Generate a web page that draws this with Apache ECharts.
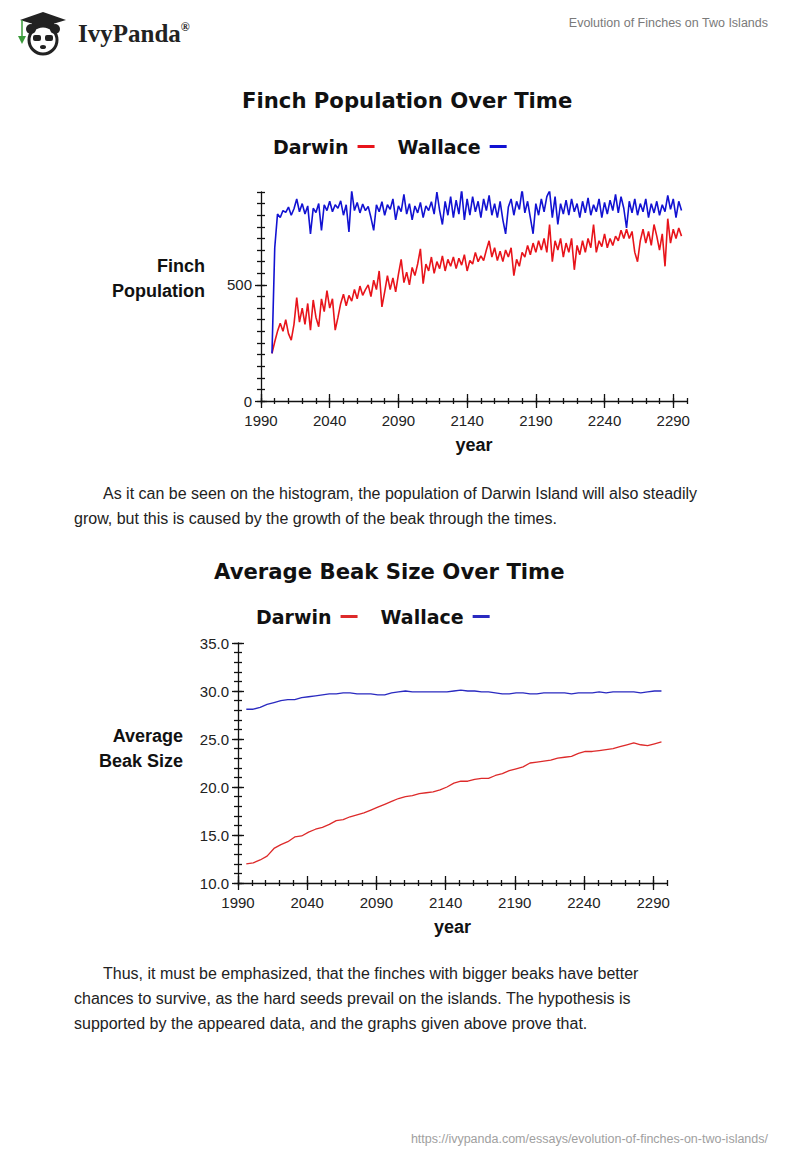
<!DOCTYPE html>
<html>
<head>
<meta charset="utf-8">
<script src="https://cdn.jsdelivr.net/npm/echarts@6/dist/echarts.min.js"></script>
<style>
  html, body { margin: 0; padding: 0; background: #fff; }
  body { width: 800px; height: 1160px; position: relative; overflow: hidden; font-family: "Liberation Sans", Arial, sans-serif; }
  .abs { position: absolute; }
  .para { position: absolute; left: 74px; font-size: 16px; line-height: 25px; color: #222; white-space: nowrap; }
  .hdr { position: absolute; right: 32px; top: 16px; font-size: 12.5px; color: #7a7a7a; }
  .foot { position: absolute; right: 32px; top: 1132px; font-size: 12.5px; color: #a0a0a0; }
  .brand { position: absolute; left: 78px; top: 20px; font-family: "Liberation Serif", "DejaVu Serif", serif; font-weight: bold; font-size: 25px; color: #222; }
  .brand sup { font-size: 12px; position: relative; top: -2px; }
</style>
</head>
<body>
<svg class="abs" style="left:12px;top:8px" width="62" height="48" viewBox="0 0 62 48">
  <polygon points="8,12 31,4 54,12 31,19" fill="#222"/>
  <rect x="20" y="13" width="22" height="7" fill="#222"/>
  <line x1="10" y1="12" x2="10" y2="28" stroke="#3a9a3a" stroke-width="1.5"/>
  <path d="M6 28 l4 8 l4 -8 z" fill="#3a9a3a"/>
  <circle cx="31" cy="32" r="14" fill="#fff" stroke="#222" stroke-width="3"/>
  <circle cx="19" cy="21" r="5" fill="#222"/>
  <circle cx="43" cy="21" r="5" fill="#222"/>
  <rect x="21" y="27" width="8" height="6" rx="2" fill="#222"/>
  <rect x="33" y="27" width="8" height="6" rx="2" fill="#222"/>
  <ellipse cx="31" cy="39" rx="3" ry="2" fill="#222"/>
</svg>
<div class="brand">IvyPanda<sup>®</sup></div>
<div class="hdr">Evolution of Finches on Two Islands</div>

<div id="c1" class="abs" style="left:0;top:80px;width:800px;height:380px"></div>

<div class="para" style="top:481px">
<span style="padding-left:29px"></span>As it can be seen on the histogram, the population of Darwin Island will also steadily<br>
grow, but this is caused by the growth of the beak through the times.
</div>

<div id="c2" class="abs" style="left:0;top:550px;width:800px;height:400px"></div>

<div class="para" style="top:961px">
<span style="padding-left:29px"></span>Thus, it must be emphasized, that the finches with bigger beaks have better<br>
chances to survive, as the hard seeds prevail on the islands. The hypothesis is<br>
supported by the appeared data, and the graphs given above prove that.
</div>

<div class="foot">https://ivypanda.com/essays/evolution-of-finches-on-two-islands/</div>

<script>
// ---------- Chart 1: Finch Population Over Time ----------
const popStartYear = 1998, popStep = 2;
const popDarwin = [
205,255,300,335,300,350,290,262,330,445,340,400,330,420,305,435,360,320,440,385,
475,400,440,305,360,420,460,410,455,430,480,440,495,455,480,500,450,520,480,560,
405,470,540,480,530,470,545,610,510,555,500,575,540,590,655,505,590,560,620,550,
600,570,625,560,610,580,620,570,615,585,630,560,605,590,640,600,625,605,650,690,
620,660,605,645,600,650,620,660,540,610,580,640,620,670,630,680,640,690,650,700,
640,760,600,690,650,700,620,680,640,700,565,670,630,690,640,700,660,760,640,690,
665,720,660,700,670,710,690,735,700,740,700,730,640,600,690,740,680,730,670,760,
710,650,720,580,785,680,740,700,745,710
];
const popWallace = [
205,660,805,790,820,812,835,800,828,870,815,850,805,840,720,830,812,850,735,845,
820,860,815,845,830,862,800,845,728,905,820,855,810,848,820,838,790,735,845,815,
858,800,845,825,870,780,840,815,890,805,850,780,840,810,855,790,840,820,858,805,
900,820,760,860,800,880,790,865,805,910,780,870,800,880,815,860,790,870,820,885,
800,850,790,860,780,720,835,870,800,860,825,910,810,860,790,720,850,800,870,815,
880,905,790,880,760,850,805,865,800,870,815,850,790,860,810,875,800,845,815,870,
790,855,805,865,820,890,810,880,830,745,860,810,870,800,850,815,870,790,850,810,
860,800,845,815,885,825,870,790,860,820
];
const popYears = popDarwin.map((_, i) => popStartYear + i * popStep);
const popYTickLabels = [0, 500];
const popYMajor = [0, 500];

// ---------- Chart 2: Average Beak Size Over Time ----------
const beakStartYear = 1996, beakStep = 5;
const beakDarwin = [
12.0,12.1,12.4,12.8,13.6,14.0,14.3,14.8,14.9,15.3,15.6,15.8,16.1,16.5,16.6,16.9,17.1,17.3,17.6,17.9,
18.2,18.5,18.8,19.0,19.1,19.3,19.4,19.5,19.7,20.0,20.4,20.6,20.6,20.8,20.9,20.9,21.2,21.4,21.7,21.9,
22.1,22.5,22.6,22.7,22.8,23.0,23.1,23.2,23.5,23.7,23.7,23.8,23.9,24.0,24.2,24.4,24.6,24.4,24.3,24.5,24.7
];
const beakWallace = [
28.1,28.1,28.3,28.6,28.8,29.0,29.1,29.1,29.3,29.4,29.5,29.6,29.7,29.7,29.8,29.8,29.7,29.7,29.7,29.6,
29.6,29.8,29.9,30.0,29.9,29.9,29.9,29.9,29.9,29.9,30.0,30.1,30.0,30.0,29.9,29.9,29.8,29.7,29.7,29.8,
29.8,29.7,29.7,29.8,29.8,29.8,29.8,29.7,29.8,29.8,29.8,29.9,29.8,29.9,29.9,29.9,29.9,29.8,29.9,30.0,30.0
];
const beakYears = beakDarwin.map((_, i) => beakStartYear + i * beakStep);
const beakYTickLabels = [10, 15, 20, 25, 30, 35];

// shared x ticks
const xTickLabels = [1990, 2040, 2090, 2140, 2190, 2240, 2290];

const BOLD = '"DejaVu Sans", "Liberation Sans", Arial, sans-serif';
const AX = '"Liberation Sans", Arial, sans-serif';

function xAxes(min, max) {
  const base = { type: 'value', min: min, max: max, interval: 10, position: 'bottom', gridIndex: 0,
    splitLine: { show: false } };
  return [
    Object.assign({}, base, {
      name: 'year', nameLocation: 'middle', nameGap: 44,
      nameTextStyle: { fontFamily: AX, fontWeight: 'bold', fontSize: 18, color: '#111', verticalAlign: 'middle' },
      axisLine: { show: true, onZero: false, lineStyle: { color: '#111', width: 1.3 } },
      axisTick: { show: true, length: 3, lineStyle: { color: '#111', width: 1.3 } },
      axisLabel: { show: true, customValues: xTickLabels, margin: 12, fontFamily: AX, fontSize: 15, color: '#222',
        formatter: v => String(v) }
    }),
    Object.assign({}, base, {
      axisLine: { show: false },
      axisTick: { show: true, inside: true, length: 3, lineStyle: { color: '#111', width: 1.3 } },
      axisLabel: { show: false }
    }),
    Object.assign({}, base, {
      axisLine: { show: false },
      axisTick: { show: true, length: 7, customValues: xTickLabels, lineStyle: { color: '#111', width: 1.3 } },
      axisLabel: { show: false }
    }),
    Object.assign({}, base, {
      axisLine: { show: false },
      axisTick: { show: true, inside: true, length: 7, customValues: xTickLabels, lineStyle: { color: '#111', width: 1.3 } },
      axisLabel: { show: false }
    })
  ];
}

function yAxes(min, max, interval, labels, majors, nameLines, gap, lift, fmt) {
  const base = { type: 'value', min: min, max: max, interval: interval, position: 'left', gridIndex: 0,
    splitLine: { show: false } };
  return [
    Object.assign({}, base, {
      name: nameLines.map(s => '{n|' + s + '}').join('\n') + '\n{g| }',
      nameLocation: 'middle', nameGap: gap, nameRotate: 0,
      nameTextStyle: { fontFamily: AX, fontWeight: 'bold', fontSize: 18, color: '#111', align: 'right',
        verticalAlign: 'middle',
        rich: {
          n: { fontFamily: AX, fontWeight: 'bold', fontSize: 18, color: '#111', lineHeight: 25, align: 'right' },
          g: { fontSize: 1, lineHeight: lift * 2, height: lift * 2 }
        } },
      axisLine: { show: true, onZero: false, lineStyle: { color: '#111', width: 1.3 } },
      axisTick: { show: true, length: 4, lineStyle: { color: '#111', width: 1.3 } },
      axisLabel: { show: true, customValues: labels, margin: 9, fontFamily: AX, fontSize: 15, color: '#222',
        formatter: fmt }
    }),
    Object.assign({}, base, {
      axisLine: { show: false },
      axisTick: { show: true, inside: true, length: 4, lineStyle: { color: '#111', width: 1.3 } },
      axisLabel: { show: false }
    }),
    Object.assign({}, base, {
      axisLine: { show: false },
      axisTick: { show: true, length: 6, customValues: majors, lineStyle: { color: '#111', width: 1.3 } },
      axisLabel: { show: false }
    }),
    Object.assign({}, base, {
      axisLine: { show: false },
      axisTick: { show: true, inside: true, length: 6, customValues: majors, lineStyle: { color: '#111', width: 1.3 } },
      axisLabel: { show: false }
    })
  ];
}

function legend(left) {
  return {
    left: left, top: 57, padding: 0, itemGap: 23, align: 'right',
    icon: 'rect', itemWidth: 17, itemHeight: 3,
    textStyle: { fontFamily: BOLD, fontWeight: 'bold', fontSize: 19, color: '#111', padding: [0, 4, 0, 0] },
    data: ['Darwin', 'Wallace']
  };
}

function pairs(xs, ys) { return xs.map((x, i) => [x, ys[i]]); }

const c1 = echarts.init(document.getElementById('c1'), null, { renderer: 'svg' });
c1.setOption({
  animation: false,
  title: { text: 'Finch Population Over Time', left: 242, top: 10, padding: 0,
    textStyle: { fontFamily: BOLD, fontWeight: 'bold', fontSize: 21.2, color: '#111' } },
  legend: legend(273),
  grid: { left: 261, top: 112, width: 426, height: 209, containLabel: false },
  xAxis: xAxes(1990, 2300),
  yAxis: yAxes(0, 900, 50, popYTickLabels, popYMajor, ['Finch', 'Population'], 56, 18, v => String(v)),
  series: [
    { name: 'Darwin', type: 'line', showSymbol: false, symbol: 'none', color: '#e8141b',
      lineStyle: { width: 1.6, color: '#e8141b' }, data: pairs(popYears, popDarwin) },
    { name: 'Wallace', type: 'line', showSymbol: false, symbol: 'none', color: '#1212d2',
      lineStyle: { width: 1.6, color: '#1212d2' }, data: pairs(popYears, popWallace) }
  ]
});

const c2 = echarts.init(document.getElementById('c2'), null, { renderer: 'svg' });
c2.setOption({
  animation: false,
  title: { text: 'Average Beak Size Over Time', left: 214, top: 11, padding: 0,
    textStyle: { fontFamily: BOLD, fontWeight: 'bold', fontSize: 21.2, color: '#111' } },
  legend: legend(256),
  grid: { left: 238, top: 93, width: 429, height: 240, containLabel: false },
  xAxis: xAxes(1990, 2300),
  yAxis: yAxes(10, 35, 1, beakYTickLabels, beakYTickLabels, ['Average', 'Beak Size'], 55, 15, v => v.toFixed(1)),
  series: [
    { name: 'Darwin', type: 'line', showSymbol: false, symbol: 'none', color: '#dd2a2a',
      lineStyle: { width: 1.3, color: '#dd2a2a' }, data: pairs(beakYears, beakDarwin) },
    { name: 'Wallace', type: 'line', showSymbol: false, symbol: 'none', color: '#2a2ac0',
      lineStyle: { width: 1.3, color: '#2a2ac0' }, data: pairs(beakYears, beakWallace) }
  ]
});
</script>
</body>
</html>
